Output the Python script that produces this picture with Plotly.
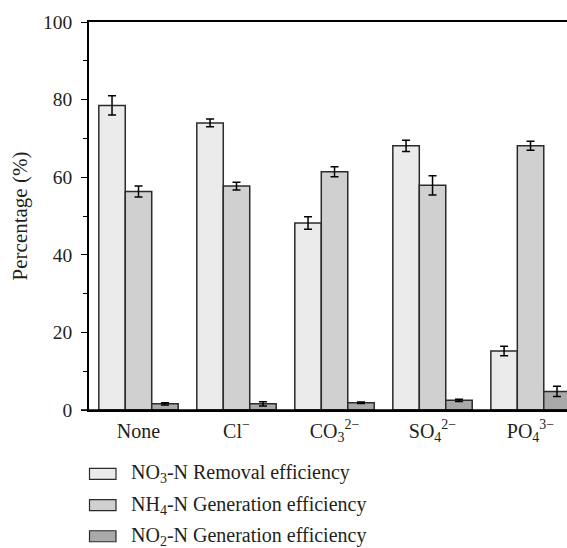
import plotly.graph_objects as go

# Anion conditions on the x axis
categories = ["None", "Cl<sup>−</sup>", "CO<sub>3</sub><sup>2−</sup>",
              "SO<sub>4</sub><sup>2−</sup>", "PO<sub>4</sub><sup>3−</sup>"]

# Series values (%) and their standard deviations
no3_removal = [78.5, 74.0, 48.2, 68.1, 15.2]
no3_err = [2.5, 1.0, 1.6, 1.45, 1.2]
nh4_generation = [56.3, 57.7, 61.4, 57.9, 68.1]
nh4_err = [1.4, 1.0, 1.3, 2.5, 1.15]
no2_generation = [1.6, 1.6, 1.85, 2.5, 4.8]
no2_err = [0.3, 0.55, 0.2, 0.3, 1.35]

series_names = ["NO<sub>3</sub>-N Removal efficiency",
                "NH<sub>4</sub>-N Generation efficiency",
                "NO<sub>2</sub>-N Generation efficiency"]
fills = ["#ebebeb", "#d0d0d0", "#a9a9a9"]

FONT = "Liberation Serif"
TXT = "#231f20"
W, H = 567, 548
L, R, T, B = 89, 0, 22, 137.5
plot_w = W - L - R
plot_h = H - T - B


def px_x(px):
    return (px - L) / plot_w


def px_y(py):
    return (H - B - py) / plot_h


fig = go.Figure()
for vals, errs, name, col in zip([no3_removal, nh4_generation, no2_generation],
                                 [no3_err, nh4_err, no2_err], series_names, fills):
    fig.add_trace(go.Bar(
        x=categories, y=vals, name=name,
        marker=dict(color=col, line=dict(color="#2b2b2b", width=1.5)),
        error_y=dict(type="data", array=errs, color="black", thickness=1.5, width=4),
        showlegend=False,
    ))

# Legend drawn as swatches + labels below the plot
shapes = []
annotations = []
for i, (name, col) in enumerate(zip(series_names, fills)):
    cy = 474.5 + i * 31.2
    shapes.append(dict(type="rect", xref="paper", yref="paper",
                       x0=px_x(89.5), x1=px_x(116), y0=px_y(cy - 5.5), y1=px_y(cy + 5.5),
                       fillcolor=col, line=dict(color="#2b2b2b", width=1.2)))
    annotations.append(dict(xref="paper", yref="paper", x=px_x(129), y=px_y(cy),
                            xanchor="left", yanchor="middle", showarrow=False,
                            text=name, font=dict(family=FONT, size=20, color=TXT)))

# Baseline extends slightly left of the y axis
shapes.append(dict(type="line", xref="paper", yref="y", x0=px_x(81), x1=1, y0=0, y1=0,
                   line=dict(color="black", width=1.5)))

fig.update_layout(
    width=W, height=H,
    margin=dict(l=L, r=R, t=T, b=B, pad=0),
    paper_bgcolor="white", plot_bgcolor="white",
    barmode="group", bargap=0.19, bargroupgap=0,
    font=dict(family=FONT, size=19.5, color=TXT),
    shapes=shapes, annotations=annotations,
    xaxis=dict(range=[-0.505, 4.372], showline=True, linecolor="black", linewidth=1.5,
               mirror=True, ticks="", showgrid=False, zeroline=False,
               ticklabelstandoff=2,
               tickfont=dict(family=FONT, size=20, color=TXT)),
    yaxis=dict(range=[0, 100], dtick=20, ticks="outside", ticklen=6, tickwidth=1.2,
               tickcolor="black", showline=True, linecolor="black", linewidth=1.5,
               showgrid=False, zeroline=False, ticklabelstandoff=5,
               minor=dict(dtick=10, ticks="outside", ticklen=4, tickwidth=1.2, tickcolor="black"),
               title=dict(text="Percentage (%)", standoff=10,
                          font=dict(family=FONT, size=21, color=TXT)),
               tickfont=dict(family=FONT, size=19.5, color=TXT)),
)

fig.write_html("out.html")
